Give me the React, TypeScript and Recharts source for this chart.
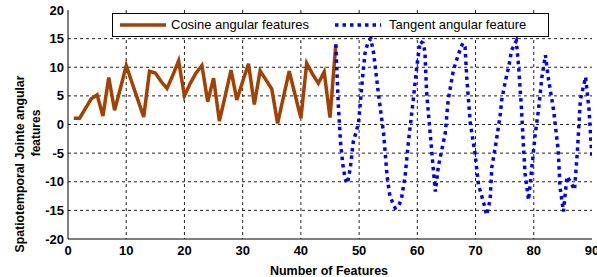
import React from 'react';
import { LineChart, Line, XAxis, YAxis, CartesianGrid, Legend, Label } from 'recharts';

const cosineX = [1, 2, 3, 4, 5, 6, 7, 8, 9, 10, 11, 12, 13, 14, 15, 16, 17, 18, 19, 20, 21, 22, 23, 24, 25, 26, 27, 28, 29, 30, 31, 32, 33, 34, 35, 36, 37, 38, 39, 40, 41, 42, 43, 44, 45, 46];
const cosineY = [1.1, 1.1, 2.8, 4.5, 5.2, 1.5, 8.2, 2.5, 6.3, 10.3, 7.3, 4.3, 1.3, 9.3, 9, 7.5, 6.3, 8.6, 11.1, 5, 7.2, 9, 10.3, 4, 8.1, 0.6, 5, 9.5, 4.3, 7.5, 10.6, 3.5, 9.4, 7.8, 6.2, 0.2, 4.8, 9.3, 5.2, 1.1, 10.7, 8.8, 7.2, 9.2, 1.2, 14];

const tangentX = [46, 46.4, 46.8, 47.2, 47.6, 48, 48.5, 49, 49.9, 50.5, 51, 51.5, 52, 52.5, 53.3, 54.2, 54.8, 55.3, 56.2, 56.8, 57.3, 57.9, 58.5, 59.3, 59.9, 60.5, 61, 61.3, 61.6, 62.2, 62.8, 63.1, 63.6, 64.8, 65.3, 66.2, 67.1, 67.8, 68.2, 68.5, 69.1, 69.9, 70.5, 71.4, 71.9, 72.5, 72.8, 73.4, 74.2, 74.5, 75.1, 75.7, 76.2, 77, 77.4, 77.9, 78.2, 78.5, 79.1, 79.4, 80.2, 80.8, 81.4, 82, 82.5, 83.4, 84.2, 84.5, 85.1, 85.7, 86.3, 87, 87.5, 88, 88.9, 89.5, 90];
const tangentY = [14, 4, -3, -7, -9.5, -10.3, -7.5, -3, 0.2, 7.2, 12.4, 14.3, 15, 12.4, 5.5, -1.5, -9, -12.6, -14.6, -14.3, -12.8, -9, -2.7, 4.3, 10.1, 14.5, 14.2, 12.7, 5.5, -1.5, -8.5, -11.7, -7.4, -1.5, 4.3, 9.5, 12.4, 14.2, 13.5, 8, 0.2, -5, -10.5, -13.7, -15.8, -13.2, -7.4, -3.9, 1.4, 4.3, 7.5, 10.1, 13, 14.6, 10.1, 2.5, -3.3, -8.5, -13.2, -10.2, -2.1, 2.5, 8.3, 12.1, 8.1, 2.5, -4.5, -10.9, -15.2, -9.1, -10, -11.4, -4.5, 4.3, 8.3, 2.5, -6];

const xTicks = [0, 10, 20, 30, 40, 50, 60, 70, 80, 90];
const yTicks = [-20, -15, -10, -5, 0, 5, 10, 15, 20];
const xGrid = [10, 20, 30, 40, 50, 60, 70, 80];
const yGrid = [-15, -10, -5, 0, 5, 10, 15];
const seriesNames = ['Cosine angular features', 'Tangent angular feature'];
const xTitle = 'Number of Features';
const yTitleLines = ['Spatiotemporal Jointe angular', 'features'];

const cosineData = cosineX.map((x, i) => ({ x, y: cosineY[i] }));
const tangentData = tangentX.map((x, i) => ({ x, y: tangentY[i] }));

const BROWN = '#a34100';
const BLUE = '#0000ff';
const AXIS_FONT = "'Liberation Sans', Arial, sans-serif";

const LegendBox = () => (
  <div
    style={{
      position: 'relative',
      width: 437,
      height: 24,
      border: '1px solid #000',
      background: '#fff',
      boxSizing: 'border-box',
      fontFamily: "'Liberation Sans', Arial, sans-serif",
      fontSize: 13,
      color: '#000',
    }}
  >
    <svg width={437} height={24} style={{ position: 'absolute', left: 0, top: 0 }}>
      <line x1={7} x2={53} y1={11} y2={11} stroke={BROWN} strokeWidth={3.5} />
      <line x1={222} x2={268} y1={11} y2={11} stroke={BLUE} strokeWidth={3.5} strokeDasharray="3.5 4" />
    </svg>
    <span style={{ position: 'absolute', left: 58, top: 3, lineHeight: '16px', whiteSpace: 'nowrap' }}>{seriesNames[0]}</span>
    <span style={{ position: 'absolute', left: 276, top: 3, lineHeight: '16px', whiteSpace: 'nowrap' }}>{seriesNames[1]}</span>
  </div>
);

export default function App() {
  return (
    <div style={{ position: 'absolute', left: 0, top: 0, background: '#fff' }}>
      <LineChart width={597} height={277} margin={{ top: 10, right: 5, bottom: 8, left: 0 }}>
        <CartesianGrid
          stroke="#222"
          strokeDasharray="3 3"
          horizontalValues={yGrid}
          verticalValues={xGrid}
        />
        <XAxis
          dataKey="x"
          type="number"
          domain={[0, 90]}
          ticks={xTicks}
          interval={0}
          allowDataOverflow
          height={30}
          tickSize={0}
          tickMargin={7}
          axisLine={{ stroke: '#000', strokeWidth: 1 }}
          tick={{ fill: '#000', fontSize: 13, fontWeight: 'bold', fontFamily: AXIS_FONT }}
          label={
            <Label
              content={() => (
                <text x={329} y={275} textAnchor="middle" fontSize={12.5} fontWeight="bold" fontFamily={AXIS_FONT} fill="#000">
                  {xTitle}
                </text>
              )}
            />
          }
        />
        <XAxis xAxisId="top" orientation="top" type="number" domain={[0, 90]} height={0} tick={false} tickLine={false} axisLine={{ stroke: '#666' }} />
        <YAxis
          type="number"
          domain={[-20, 20]}
          ticks={yTicks}
          interval={0}
          width={68}
          tickSize={0}
          tickMargin={4}
          axisLine={{ stroke: '#000', strokeWidth: 1 }}
          tick={{ fill: '#000', fontSize: 13, fontWeight: 'bold', fontFamily: AXIS_FONT }}
          label={
            <Label
              content={() => (
                <g>
                  <text transform="translate(24,164) rotate(-90)" textAnchor="middle" fontSize={12.3} fontWeight="bold" fontFamily={AXIS_FONT} fill="#000">
                    {yTitleLines[0]}
                  </text>
                  <text transform="translate(40,133) rotate(-90)" textAnchor="middle" fontSize={12} fontWeight="bold" fontFamily={AXIS_FONT} fill="#000">
                    {yTitleLines[1]}
                  </text>
                </g>
              )}
            />
          }
        />
        <YAxis yAxisId="right" orientation="right" type="number" domain={[-20, 20]} width={0} tick={false} tickLine={false} axisLine={{ stroke: '#666' }} />
        <Legend
          layout="horizontal"
          verticalAlign="middle"
          align="center"
          wrapperStyle={{ left: 112, top: 13, width: 437, height: 24 }}
          content={() => <LegendBox />}
        />
        <Line
          data={cosineData}
          dataKey="y"
          name={seriesNames[0]}
          type="linear"
          stroke={BROWN}
          strokeWidth={3.5}
          strokeLinejoin="miter"
          dot={false}
          activeDot={false}
          isAnimationActive={false}
        />
        <Line
          data={tangentData}
          dataKey="y"
          name={seriesNames[1]}
          type="linear"
          stroke={BLUE}
          strokeWidth={3.5}
          strokeDasharray="3.5 4"
          dot={false}
          activeDot={false}
          isAnimationActive={false}
        />
      </LineChart>
    </div>
  );
}
